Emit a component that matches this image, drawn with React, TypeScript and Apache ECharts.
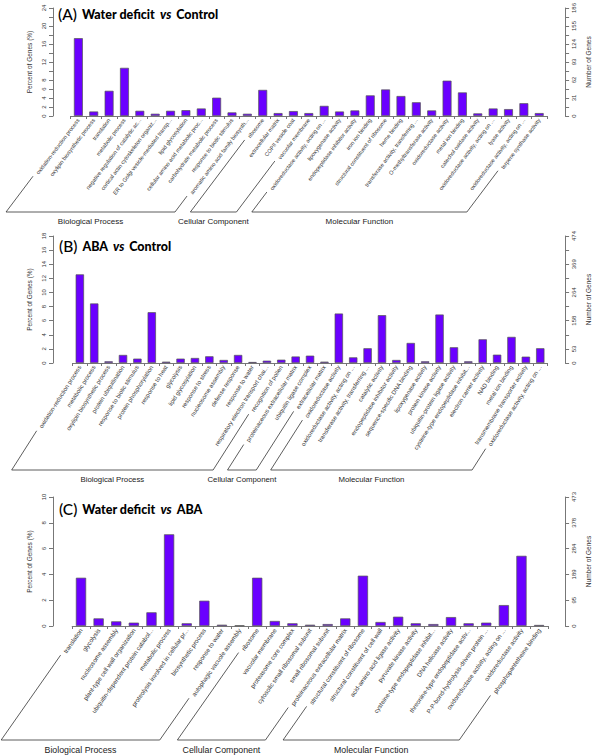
import React, { useEffect, useRef } from "react";
import * as echarts from "echarts";

// ---------------- DATA ----------------
const aCats = [
  "oxidation-reduction process", "oxylipin biosynthetic process", "translation", "metabolic process",
  "negative regulation of catalytic ac...", "cortical actin cytoskeleton organiz...", "ER to Golgi vesicle-mediated transp...",
  "lipid glycosylation", "cellular amino acid metabolic proc...", "carbohydrate metabolic process",
  "response to biotic stimulus", "aromatic amino acid family biosynth...",
  "ribosome", "extracellular matrix", "COPII vesicle coat", "vacuolar membrane",
  "oxidoreductase activity, acting on ...", "lipoxygenase activity", "endopeptidase inhibitor activity",
  "iron ion binding", "structural constituent of ribosome", "heme binding", "transferase activity, transferring ...",
  "O-methyltransferase activity", "oxidoreductase activity", "metal ion binding", "catechol oxidase activity",
  "oxidoreductase activity, acting on ...", "lyase activity", "oxidoreductase activity, acting on ...",
  "terpene synthase activity",
];
const aVals = [17.3, 1.0, 5.6, 10.7, 1.16, 0.5, 1.16, 1.3, 1.67, 4.07, 0.8, 0.5, 5.8, 0.65, 1.09, 0.65,
  2.25, 1.0, 1.24, 4.58, 5.9, 4.44, 3.05, 1.24, 7.85, 5.24, 0.58, 1.67, 1.53, 2.84, 0.65];
const aPctTicks = ["0", "2", "4", "6", "8", "", "12", "", "16", "", "20", "", "24"];
const aGeneTicks = ["0", "", "31", "", "62", "", "93", "", "124", "", "155", "", "186"];
const aGroups: [string, number, number][] = [
  ["Biological Process", 0, 11], ["Cellular Component", 12, 15], ["Molecular Function", 16, 30],
];

const bCats = [
  "oxidation-reduction process", "metabolic process", "oxylipin biosynthetic process", "protein ubiquitination",
  "response to biotic stimulus", "protein phosphorylation", "response to heat", "glycolysis", "lipid glycosylation",
  "response to stress", "nucleosome assembly", "defense response", "response to water",
  "respiratory electron transport chai...", "recognition of pollen",
  "proteinaceous extracellular matrix", "ubiquitin ligase complex", "extracellular matrix",
  "oxidoreductase activity", "oxidoreductase activity, acting on ...", "transferase activity, transferring ...",
  "catalytic activity", "endopeptidase inhibitor activity", "sequence-specific DNA binding", "lipoxygenase activity",
  "protein kinase activity", "ubiquitin-protein ligase activity", "cysteine-type endopeptidase inhibit...",
  "electron carrier activity", "NAD binding", "metal ion binding", "transmembrane transporter activity",
  "oxidoreductase activity, acting on ...",
];
const bVals = [12.56, 8.44, 0.24, 1.14, 0.62, 7.2, 0.19, 0.62, 0.71, 0.95, 0.43, 1.14, 0.14, 0.33, 0.47,
  0.92, 1.04, 0.19, 7.01, 0.8, 2.09, 6.78, 0.43, 2.84, 0.24, 6.87, 2.23, 0.24, 3.36, 1.18, 3.7, 0.9, 2.09];
const bPctTicks = ["0", "2", "4", "6", "8", "10", "12", "14", "16", "18"];
const bGeneTicks = ["0", "53", "", "158", "", "264", "", "369", "", "474"];
const bGroups: [string, number, number][] = [
  ["Biological Process", 0, 14], ["Cellular Component", 15, 17], ["Molecular Function", 18, 32],
];

const cCats = [
  "translation", "glycolysis", "nucleosome assembly", "plant-type cell wall organization",
  "ubiquitin-dependent protein catabol...", "metabolic process", "proteolysis involved in cellular pr...",
  "biosynthetic process", "response to water", "autophagic vacuole assembly",
  "ribosome", "vacuolar membrane", "proteasome core complex", "cytosolic small ribosomal subunit",
  "small ribosomal subunit", "proteinaceous extracellular matrix",
  "structural constituent of ribosome", "structural constituent of cell wall", "acid-amino acid ligase activity",
  "pyruvate kinase activity", "cysteine-type endopeptidase inhibit...", "DNA helicase activity",
  "threonine-type endopeptidase activ...", "P-P-bond-hydrolysis-driven protein ...",
  "oxidoreductase activity, acting on ...", "oxidoreductase activity", "phosphopantetheine binding",
];
const cVals = [3.74, 0.59, 0.36, 0.26, 1.06, 7.11, 0.21, 1.96, 0.1, 0.05, 3.74, 0.39, 0.21, 0.1, 0.15, 0.59,
  3.9, 0.31, 0.72, 0.21, 0.15, 0.69, 0.21, 0.26, 1.62, 5.44, 0.08];
const cPctTicks = ["0", "2", "4", "6", "8", "10"];
const cGeneTicks = ["0", "95", "189", "284", "378", "473"];
const cGroups: [string, number, number][] = [
  ["Biological Process", 0, 9], ["Cellular Component", 10, 15], ["Molecular Function", 16, 26],
];

const aTitle = ["(A)", "Water deficit", "vs", "Control"];
const bTitle = ["(B)", "ABA", "vs", "Control"];
const cTitle = ["(C)", "Water deficit", "vs", "ABA"];

// ---------------- LAYOUT ----------------
const FONT = '"Liberation Sans", Arial, sans-serif';
const panels = [
  { cats: aCats, vals: aVals, pct: aPctTicks, genes: aGeneTicks, groups: aGroups, title: aTitle,
    grid: { left: 70.7, top: 6, width: 484.1, height: 110 }, lx: 53, rx: 573, angle: 53, bottomOff: 96,
    labelFont: 5.6, groupFont: 8, titleLeft: 58, titleTop: 5 },
  { cats: bCats, vals: bVals, pct: bPctTicks, genes: bGeneTicks, groups: bGroups, title: bTitle,
    grid: { left: 72.65, top: 236, width: 484.7, height: 127 }, lx: 53, rx: 575, angle: 57.5, bottomOff: 107,
    labelFont: 6, groupFont: 7.8, titleLeft: 59, titleTop: 237 },
  { cats: cCats, vals: cVals, pct: cPctTicks, genes: cGeneTicks, groups: cGroups, title: cTitle,
    grid: { left: 72.2, top: 497, width: 476.6, height: 129 }, lx: 53, rx: 566, angle: 55, bottomOff: 114,
    labelFont: 6.2, groupFont: 8.8, titleLeft: 59, titleTop: 500 },
];

export default function App() {
  const ref = useRef<HTMLDivElement>(null);
  useEffect(() => {
    const chart = echarts.init(ref.current!, null, { renderer: "svg", width: 600, height: 755 });
    const grids: any[] = [], xAxes: any[] = [], yAxes: any[] = [], series: any[] = [], titles: any[] = [];
    panels.forEach((p, i) => {
      grids.push({ ...p.grid, containLabel: false });
      xAxes.push({
        type: "category", gridIndex: i, data: p.cats,
        axisLine: { lineStyle: { color: "#777", width: 1 } },
        axisTick: { show: true, length: 3, lineStyle: { color: "#777" } },
        axisLabel: { interval: 0, rotate: p.angle, fontSize: p.labelFont, color: "#333", margin: 3, fontFamily: FONT },
      });
      const n = p.pct.length - 1;
      yAxes.push({
        type: "value", gridIndex: i, position: "left", min: 0, max: n, interval: 1,
        offset: p.grid.left - p.lx,
        name: "Percent of Genes (%)", nameLocation: "middle", nameGap: 17, nameRotate: 90,
        nameTextStyle: { fontSize: 6.5, color: "#333", fontFamily: FONT },
        axisLine: { show: true, lineStyle: { color: "#777" } },
        axisTick: { show: true, length: 4, lineStyle: { color: "#777" } },
        splitLine: { show: false },
        axisLabel: { rotate: 90, fontSize: 6, color: "#333", margin: 6, fontFamily: FONT,
          formatter: (v: number) => p.pct[Math.round(v)] ?? "" },
      });
      yAxes.push({
        type: "value", gridIndex: i, position: "right", min: 0, max: p.genes.length - 1, interval: 1,
        offset: p.rx - (p.grid.left + p.grid.width),
        name: "Number of Genes", nameLocation: "middle", nameGap: 18, nameRotate: 90,
        nameTextStyle: { fontSize: 6.5, color: "#333", fontFamily: FONT },
        axisLine: { show: true, lineStyle: { color: "#777" } },
        axisTick: { show: true, length: 4, lineStyle: { color: "#777" } },
        splitLine: { show: false },
        axisLabel: { rotate: 90, fontSize: 6, color: "#333", margin: 6, fontFamily: FONT,
          formatter: (v: number) => p.genes[Math.round(v)] ?? "" },
      });
      const step = Number(p.pct[1]);
      series.push({
        type: "bar", xAxisIndex: i, yAxisIndex: 2 * i, barCategoryGap: "42%",
        data: p.vals.map((v) => v / step),
        itemStyle: { color: "#6a00ff", borderColor: "#555", borderWidth: 0.7 },
      });
      titles.push({
        left: p.titleLeft, top: p.titleTop, padding: 0,
        text: `{p|${p.title[0]}} {b|${p.title[1]}} {i|${p.title[2]}} {b|${p.title[3]}}`,
        textStyle: {
          rich: {
            p: { fontSize: 15.5, fontFamily: "Lato", fontWeight: 500, color: "#000" },
            b: { fontSize: 12.5, fontFamily: "Lato", fontWeight: 900, color: "#000" },
            i: { fontSize: 12.5, fontFamily: "Lato", fontWeight: 900, fontStyle: "italic", color: "#000" },
          },
        },
      });
    });
    chart.setOption({
      animation: false, backgroundColor: "#fff",
      title: titles, grid: grids, xAxis: xAxes, yAxis: yAxes, series,
    });

    // brackets under the rotated labels
    const ctx = document.createElement("canvas").getContext("2d")!;
    const graphic: any[] = [];
    panels.forEach((p, i) => {
      const y0 = chart.convertToPixel({ yAxisIndex: 2 * i }, 0) as number;
      const th = (p.angle * Math.PI) / 180;
      const ux = -Math.cos(th), uy = Math.sin(th);
      ctx.font = `${p.labelFont}px "Liberation Sans"`;
      const bottomY = y0 + p.bottomOff;
      const dBottom = p.bottomOff / uy;
      const pt = (k: number, d: number) => {
        const cx = chart.convertToPixel({ xAxisIndex: i }, k) as number;
        return [cx + ux * d, y0 + uy * d];
      };
      p.groups.forEach(([name, s, e]) => {
        const ws = ctx.measureText(p.cats[s]).width + 3 + 4;
        const we = ctx.measureText(p.cats[e]).width + 3 + 4;
        const bs = pt(s, dBottom), be = pt(e, dBottom);
        const pts: number[][] = [];
        if (ws < dBottom) pts.push(pt(s, ws));
        pts.push(bs, be);
        if (we < dBottom) pts.push(pt(e, we));
        graphic.push({ type: "polyline", shape: { points: pts }, style: { stroke: "#333", lineWidth: 0.8, fill: null }, silent: true });
        graphic.push({
          type: "text", x: (bs[0] + be[0]) / 2, y: bottomY + 9.5,
          style: { text: name, fontSize: p.groupFont, fontFamily: FONT, fill: "#222", align: "center", verticalAlign: "middle" },
          silent: true,
        });
      });
    });
    chart.setOption({ graphic });
    return () => chart.dispose();
  }, []);
  return <div ref={ref} style={{ position: "fixed", left: 0, top: 0, width: 600, height: 755, background: "#fff" }} />;
}
